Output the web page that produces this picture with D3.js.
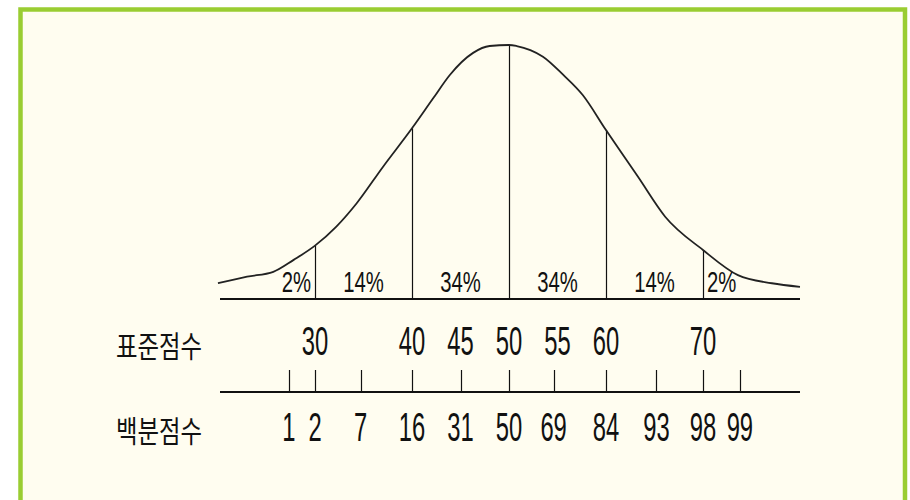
<!DOCTYPE html>
<html>
<head>
<meta charset="utf-8">
<script src="https://cdn.jsdelivr.net/npm/d3@7"></script>
<style>
  body { margin: 0; background: #fff; }
  svg { display: block; }
  text { font-family: "Liberation Sans", Arial, sans-serif; fill: #111; }
  .kr { font-family: "Noto Sans CJK KR", sans-serif; }
</style>
</head>
<body>
<svg id="chart" width="910" height="500"></svg>
<script>
// curve (standard score, height relative to peak)
var curveScores  = [20, 23, 25.7, 27.8, 30, 32.2, 34.3, 37, 40, 42.2, 43.9, 46.3, 48, 50, 50.8, 52.2, 53.5, 55.6, 57.6, 60, 63.3, 66.1, 70, 73.6, 77.1, 80];
var curveHeights = [0.062, 0.088, 0.107, 0.154, 0.21, 0.285, 0.377, 0.52, 0.672, 0.791, 0.882, 0.969, 0.996, 1.0, 0.996, 0.98, 0.954, 0.882, 0.803, 0.665, 0.481, 0.324, 0.193, 0.094, 0.062, 0.048];

// band dividers and the share of cases in each band
var dividers = [30, 40, 50, 60, 70];
var bandEdges = [20, 30, 40, 50, 60, 70, 80];
var bandLabels = ["2%", "14%", "34%", "34%", "14%", "2%"];

// standard score labels
var standardScores = [30, 40, 45, 50, 55, 60, 70];

// percentile ranks and where they sit on the score scale
var percentiles = [1, 2, 7, 16, 31, 50, 69, 84, 93, 98, 99];
var percentileAt = [27.3, 30, 34.7, 40, 45, 50, 54.6, 60, 65.2, 70, 73.8];

var rowLabels = ["표준점수", "백분점수"];

var svg = d3.select("#chart");

// frame
svg.append("rect")
  .attr("x", 20.5).attr("y", 9.5)
  .attr("width", 884.5).attr("height", 494)
  .attr("fill", "#fffdf0")
  .attr("stroke", "#9acd32")
  .attr("stroke-width", 4.5);

var base = 299, axis2 = 392;

var x = d3.scaleLinear().domain([20, 80]).range([218, 800]);
var y = d3.scaleLinear().domain([0, 1]).range([base, 45]);

var pts = curveScores.map(function(s, i) { return [s, curveHeights[i]]; });

// dividers under the curve
svg.selectAll(".div")
  .data(dividers)
  .enter().append("line")
  .attr("x1", function(d) { return Math.round(x(d)) + 0.5; })
  .attr("x2", function(d) { return Math.round(x(d)) + 0.5; })
  .attr("y1", base)
  .attr("y2", function(d) { return y(curveHeights[curveScores.indexOf(d)]); })
  .attr("stroke", "#111")
  .attr("stroke-width", 1.2);

// the curve
var line = d3.line()
  .x(function(d) { return x(d[0]); })
  .y(function(d) { return y(d[1]); })
  .curve(d3.curveMonotoneX);

svg.append("path")
  .datum(pts)
  .attr("d", line)
  .attr("fill", "none")
  .attr("stroke", "#222")
  .attr("stroke-width", 1.8);

// baseline
svg.append("line")
  .attr("x1", 220).attr("x2", 800)
  .attr("y1", base).attr("y2", base)
  .attr("stroke", "#111").attr("stroke-width", 2);

// band percentages
function squeeze(sel, sx) {
  return sel.attr("transform", function(d) {
    return "translate(" + d.x + "," + d.y + ") scale(" + sx + ",1)";
  });
}

var bands = bandLabels.map(function(t, i) {
  var mid = x((bandEdges[i] + bandEdges[i + 1]) / 2), anchor = "middle";
  if (i === 0) { mid = x(bandEdges[1]) - 4; anchor = "end"; }
  if (i === bandLabels.length - 1) { mid = x(bandEdges[i]) + 4; anchor = "start"; }
  return {t: t, x: mid, y: base - 7, a: anchor};
});

squeeze(svg.selectAll(".pct").data(bands).enter().append("text"), 0.7)
  .attr("text-anchor", function(d) { return d.a; })
  .attr("font-size", 29)
  .text(function(d) { return d.t; });

// standard score row
squeeze(svg.selectAll(".std")
  .data(standardScores.map(function(s) { return {t: s, x: x(s), y: 355}; }))
  .enter().append("text"), 0.58)
  .attr("text-anchor", "middle")
  .attr("font-size", 41)
  .text(function(d) { return d.t; });

// percentile axis
svg.append("line")
  .attr("x1", 220).attr("x2", 800)
  .attr("y1", axis2).attr("y2", axis2)
  .attr("stroke", "#111").attr("stroke-width", 2);

svg.selectAll(".tick")
  .data(percentileAt)
  .enter().append("line")
  .attr("x1", function(d) { return Math.round(x(d)) + 0.5; })
  .attr("x2", function(d) { return Math.round(x(d)) + 0.5; })
  .attr("y1", axis2).attr("y2", axis2 - 22)
  .attr("stroke", "#111")
  .attr("stroke-width", 1.2);

squeeze(svg.selectAll(".pr")
  .data(percentiles.map(function(p, i) { return {t: p, x: x(percentileAt[i]), y: 441}; }))
  .enter().append("text"), 0.58)
  .attr("text-anchor", "middle")
  .attr("font-size", 41)
  .text(function(d) { return d.t; });

// row titles
squeeze(svg.selectAll(".kr")
  .data(rowLabels.map(function(t, i) { return {t: t, x: 159, y: i === 0 ? 357 : 442}; }))
  .enter().append("text"), 0.78)
  .attr("class", "kr")
  .attr("text-anchor", "middle")
  .attr("font-size", 30)
  .text(function(d) { return d.t; });
</script>
</body>
</html>
